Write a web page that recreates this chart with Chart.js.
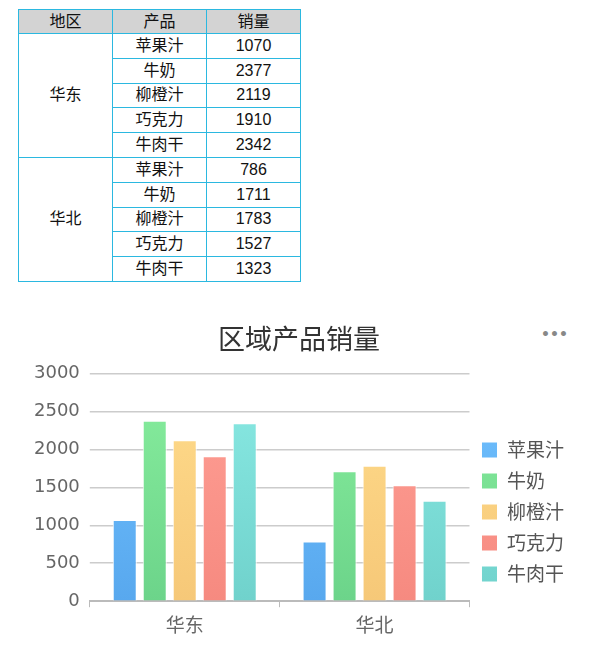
<!DOCTYPE html>
<html>
<head>
<meta charset="utf-8">
<script src="https://cdn.jsdelivr.net/npm/chart.js@4/dist/chart.umd.min.js"></script>
<style>
    body { margin: 0; background: #fff; width: 599px; height: 645px; position: relative; overflow: hidden; }
    table {
        position: absolute; left: 18px; top: 9px;
        border-collapse: collapse;
        font-family: "Liberation Sans", "Noto Sans CJK SC", sans-serif;
        font-size: 16px; line-height: 18px; color: #111;
    }
    td, th {
        border: 1px solid #2bb8e0;
        width: 93px; height: 23.8px; padding: 0;
        text-align: center; font-weight: normal;
    }
    th { background: #d3d3d3; height: 23px; }
    #box { position: absolute; left: 0; top: 300px; width: 599px; height: 345px; }
    #more { position: absolute; left: 541px; top: 326px; color: #888; font: bold 14px "DejaVu Sans", sans-serif; }
</style>
</head>
<body>
<table id="tbl"></table>
<div id="more">•••</div>
<div id="box"><canvas id="c"></canvas></div>
<script>
const regions = ["华东", "华北"];
const products = ["苹果汁", "牛奶", "柳橙汁", "巧克力", "牛肉干"];
const east = [1070, 2377, 2119, 1910, 2342];
const north = [786, 1711, 1783, 1527, 1323];
const yTicks = [0, 500, 1000, 1500, 2000, 2500, 3000];
const topColors = ["#72c2ff", "#88ee9e", "#ffdc8c", "#ffa096", "#8aeae4"];
const bottomColors = ["#58a8ee", "#6cd48a", "#f6c878", "#f68a80", "#70d2cc"];

// table
const tbl = document.getElementById("tbl");
let html = "<tr><th>地区</th><th>产品</th><th>销量</th></tr>";
[east, north].forEach((vals, r) => {
    products.forEach((p, i) => {
        html += "<tr>";
        if (i === 0) html += `<td rowspan="${products.length}">${regions[r]}</td>`;
        html += `<td>${p}</td><td>${vals[i]}</td></tr>`;
    });
});
tbl.innerHTML = html;

function grad(i) {
    return (ctx) => {
        const area = ctx.chart.chartArea;
        if (!area) return topColors[i];
        const g = ctx.chart.ctx.createLinearGradient(0, area.top, 0, area.bottom);
        g.addColorStop(0, topColors[i]);
        g.addColorStop(1, bottomColors[i]);
        return g;
    };
}

const datasets = products.map((p, i) => ({
    label: p,
    data: [east[i], north[i]],
    backgroundColor: grad(i),
    borderColor: "#ffffff",
    borderWidth: 1,
    categoryPercentage: 0.79,
    barPercentage: 0.8,
}));

new Chart(document.getElementById("c"), {
    type: "bar",
    data: { labels: regions, datasets },
    options: {
        responsive: true,
        maintainAspectRatio: false,
        animation: false,
        layout: { padding: { left: 24, right: 25, top: 8, bottom: 3 } },
        plugins: {
            title: {
                display: true,
                text: "区域产品销量",
                color: "#333",
                font: { size: 27, family: "Noto Sans CJK SC", weight: "normal" },
                padding: { top: 15, bottom: 18 },
            },
            legend: {
                position: "right",
                title: { display: true, text: " ", font: { size: 10 }, padding: { top: 0, bottom: 62 } },
                labels: {
                    boxWidth: 16,
                    boxHeight: 16,
                    padding: 12,
                    color: "#555",
                    font: { size: 19, family: "Noto Sans CJK SC" },
                },
            },
            tooltip: { enabled: false },
        },
        scales: {
            x: {
                grid: { display: true, drawOnChartArea: false, color: "#bbb", tickLength: 6 },
                border: { color: "#bbb", width: 2 },
                ticks: { color: "#666", font: { size: 19, family: "Noto Sans CJK SC" }, padding: 6 },
            },
            y: {
                min: 0,
                max: 3000,
                afterBuildTicks: (axis) => { axis.ticks = yTicks.map((v) => ({ value: v })); },
                grid: { color: "#ccc", tickLength: 0, lineWidth: 1.5 },
                border: { display: false },
                ticks: {
                    color: "#666",
                    font: { size: 18, family: "DejaVu Sans" },
                    padding: 10,
                    callback: (v) => String(v),
                },
            },
        },
    },
});
</script>
</body>
</html>
